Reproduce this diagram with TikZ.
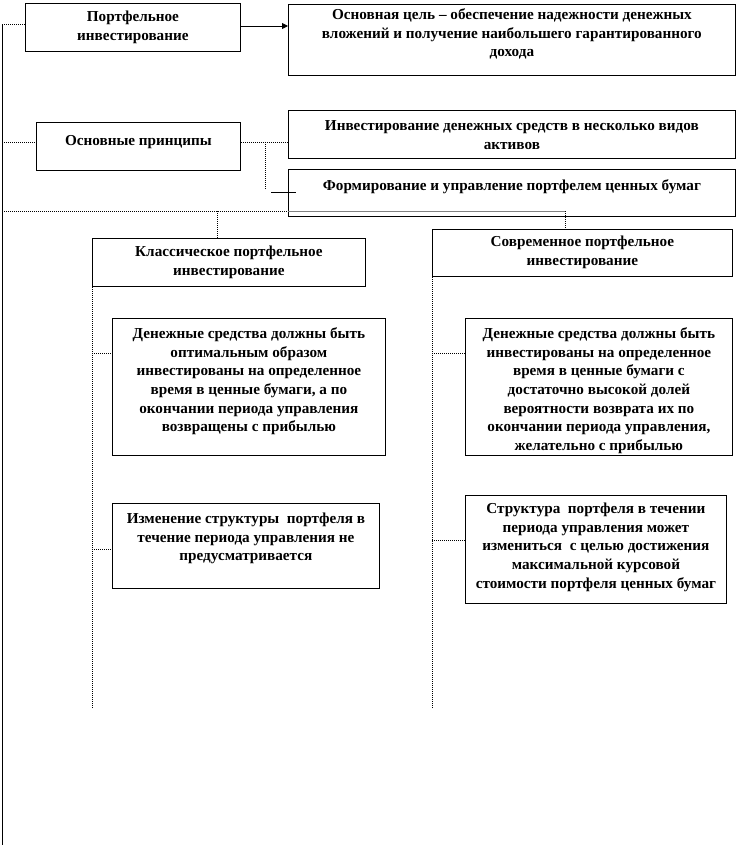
\documentclass[tikz,border=0pt]{standalone}
\usepackage{fontspec}
\setmainfont{Liberation Serif}
\usetikzlibrary{arrows.meta}
\newcommand\bxt[4]{\parbox[c][#2pt][t]{#1pt}{\centering\fontsize{15.2}{18.7}\selectfont\bfseries\vspace*{#3pt}\strut#4}}
\tikzset{
  box/.style={draw=black, line width=0.8pt, inner sep=0pt, anchor=north west, fill=white},
  dotl/.style={line width=0.9pt, dash pattern=on 1pt off 1pt},
  soll/.style={line width=0.9pt},
}
\begin{document}
\begin{tikzpicture}[x=1pt,y=-1pt]
\useasboundingbox (0,0) rectangle (736,852);
% boxes
\node[box, minimum width=215pt, minimum height=48pt] (A) at (25,3) {\bxt{215}{48}{5}{Портфельное\\инвестирование}};
\node[box, minimum width=447pt, minimum height=71pt] (B) at (288,4) {\bxt{447}{71}{2}{Основная цель – обеспечение надежности денежных\\вложений и получение наибольшего гарантированного\\дохода}};
\node[box, minimum width=204pt, minimum height=48pt] (C) at (36,122) {\bxt{204}{48}{10}{Основные принципы}};
\node[box, minimum width=447pt, minimum height=48pt] (D) at (288,110) {\bxt{447}{48}{7}{Инвестирование денежных средств в несколько видов\\активов}};
\node[box, minimum width=447pt, minimum height=47pt] (E) at (288,169) {\bxt{447}{47}{8}{Формирование и управление портфелем ценных бумаг}};
\node[box, minimum width=273pt, minimum height=48pt] (F) at (92,238) {\bxt{273}{48}{5}{Классическое портфельное\\инвестирование}};
\node[box, minimum width=300pt, minimum height=47pt] (G) at (432,229) {\bxt{300}{47}{4}{Современное портфельное\\инвестирование}};
\node[box, minimum width=273pt, minimum height=137pt] (H) at (112,318) {\bxt{273}{137}{7}{Денежные средства должны быть\\оптимальным образом\\инвестированы на определенное\\время в ценные бумаги, а по\\окончании периода управления\\возвращены с прибылью}};
\node[box, minimum width=267pt, minimum height=137pt] (I) at (465,318) {\bxt{267}{137}{7}{Денежные средства должны быть\\инвестированы на определенное\\время в ценные бумаги с\\достаточно высокой долей\\вероятности возврата их по\\окончании периода управления,\\желательно с прибылью}};
\node[box, minimum width=267pt, minimum height=85pt] (J) at (112,503) {\bxt{267}{85}{7}{Изменение структуры\ \ портфеля в\\течение периода управления не\\предусматривается}};
\node[box, minimum width=261pt, minimum height=108pt] (K) at (465,495) {\bxt{261}{108}{5}{Структура\ \ портфеля в течении\\периода управления может\\измениться\ \ с целью достижения\\максимальной курсовой\\стоимости портфеля ценных бумаг}};
% coordinates
\coordinate (L0) at (2,24);
\coordinate (L1) at (2,845);
\coordinate (LC) at (2,142);
\coordinate (LS) at (2,211);
\coordinate (P1) at (265,142);
\coordinate (P2) at (265,190);
\coordinate (Q1) at (271,192);
\coordinate (Q2) at (296,192);
\coordinate (S1) at (217,211);
\coordinate (S2) at (565,211);
\coordinate (S3) at (288,211);
\coordinate (FL) at (92,708);
\coordinate (FH) at (92,353);
\coordinate (FJ) at (92,549);
\coordinate (GL) at (432,708);
\coordinate (GI) at (432,353);
\coordinate (GK) at (432,540);
% connectors
\draw[soll] (L0) -- (L1);
\draw[dotl] (L0) -- (A.west |- L0);
\draw[soll, -{Triangle[length=6pt,width=6pt]}] (A.east |- 0,26) -- (B.west |- 0,26);
\draw[dotl] (LC) -- (C.west |- LC);
\draw[dotl] (C.east |- LC) -- (D.west |- LC);
\draw[dotl] (P1) -- (P2);
\draw[soll] (Q1) -- (Q2);
\draw[dotl] (LS) -- (S3);
\draw[soll, draw=gray] (S3) -- (S2);
\draw[dotl] (S2) -- (G.north -| S2);
\draw[dotl] (S1) -- (F.north -| S1);
\draw[dotl] (F.south west) -- (FL);
\draw[dotl] (FH) -- (H.west |- FH);
\draw[dotl] (FJ) -- (J.west |- FJ);
\draw[dotl] (G.south west) -- (GL);
\draw[dotl] (GI) -- (I.west |- GI);
\draw[dotl] (GK) -- (K.west |- GK);
\end{tikzpicture}
\end{document}
